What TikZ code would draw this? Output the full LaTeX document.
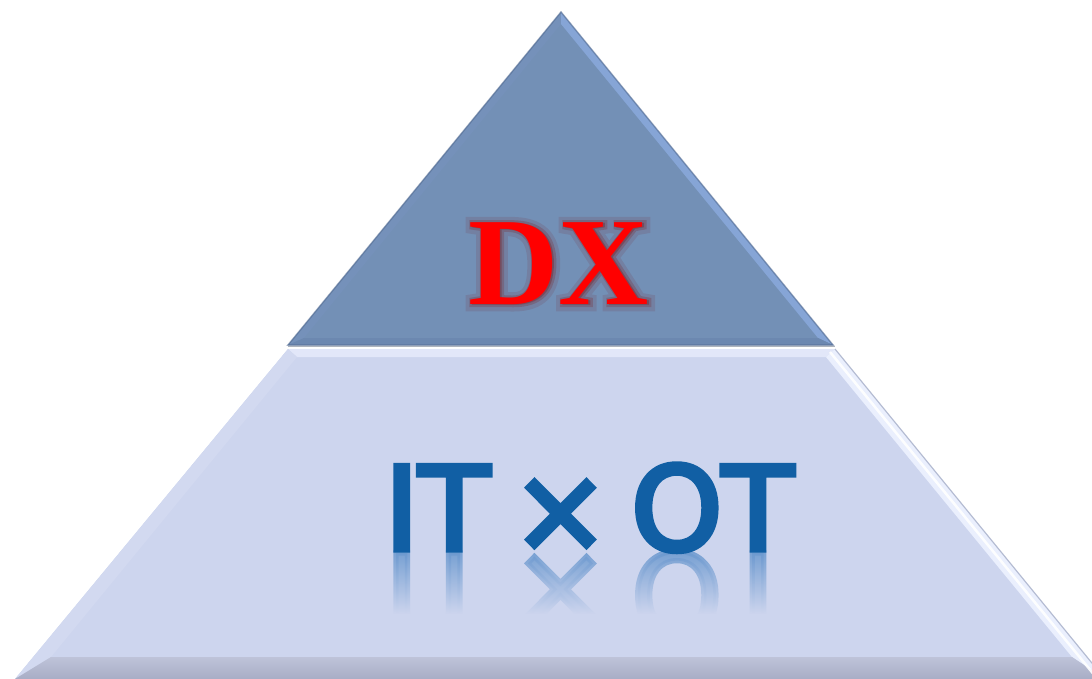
\documentclass[tikz,border=0pt]{standalone}
\usepackage{fontspec}
\usetikzlibrary{fadings}
\newfontfamily\dxfont{Liberation Serif}
\newfontfamily\dxglowfont[FakeBold=4]{Liberation Serif Bold}
\newfontfamily\dxglowwidefont[FakeBold=10]{Liberation Serif Bold}
\newfontfamily\itfont[FakeBold=4.5,WordSpace=0.6]{DejaVu Sans}
\definecolor{topmain}{HTML}{7390B6}
\definecolor{topleft}{HTML}{7591BA}
\definecolor{topright}{HTML}{86A5D6}
\definecolor{topbottom}{HTML}{6C88B0}
\definecolor{topedge}{HTML}{50698F}
\definecolor{botmain}{HTML}{CDD5EE}
\definecolor{bottop}{HTML}{E2E7F9}
\definecolor{botleft}{HTML}{D2D9F0}
\definecolor{botright}{HTML}{EAEFFD}
\definecolor{botbottomA}{HTML}{BEC3D9}
\definecolor{botbottomB}{HTML}{A8ADC5}
\definecolor{botedge}{HTML}{9EA7C2}
\definecolor{seam}{HTML}{AEB4BC}
\definecolor{dxred}{HTML}{FF0000}
\definecolor{dxglow}{HTML}{7A1414}
\definecolor{itblue}{HTML}{115FA4}
\definecolor{itrefl}{HTML}{6A98CF}
\tikzfading[name=reflfade, top color=transparent!100, bottom color=transparent!0]
\tikzset{
  dxtext/.style={font=\dxfont\bfseries\fontsize{125}{125}\selectfont, text=dxred, anchor=base, inner sep=0pt},
  dxhalo/.style={font=\dxglowfont\fontsize{125}{125}\selectfont, text=dxglow, text opacity=0.22, anchor=base, inner sep=0pt},
  dxhalowide/.style={font=\dxglowwidefont\fontsize{125}{125}\selectfont, text=dxglow, text opacity=0.12, anchor=base, inner sep=0pt},
  ittext/.style={font=\itfont\fontsize{116}{116}\selectfont, text=itblue, anchor=base, inner sep=0pt},
  itreflect/.style={font=\itfont\fontsize{116}{116}\selectfont, text=itrefl, text opacity=0.85, anchor=base, inner sep=0pt, yscale=-1, transform shape},
}
\begin{document}
\begin{tikzpicture}[x=1pt,y=-1pt]
\useasboundingbox (0,0) rectangle (1092,679);
\clip (0,0) rectangle (1092,679);
% ---------- bottom trapezoid ----------
\coordinate (TL) at (288,349);
\coordinate (TR) at (835,349);
\coordinate (BR) at (1105,679);
\coordinate (BL) at (15,679);
\coordinate (iTL) at (297,357);
\coordinate (iTR) at (826,357);
\coordinate (iBR) at (1072,657);
\coordinate (iBL) at (51,657);
\fill[botmain] (TL) -- (TR) -- (BR) -- (BL) -- cycle;
\fill[bottop] (TL) -- (TR) -- (iTR) -- (iTL) -- cycle;
\fill[botleft] (TL) -- (iTL) -- (iBL) -- (BL) -- cycle;
\fill[botright] (TR) -- (BR) -- (iBR) -- (iTR) -- cycle;
\shade[top color=botbottomA, bottom color=botbottomB] (iBL) -- (iBR) -- (BR) -- (BL) -- cycle;
\draw[white, line width=2.5, opacity=0.9] ([shift={(-5,3)}]TR) -- ([shift={(-5,3)}]BR);
\draw[botedge, line width=1.2, opacity=0.7] (TR) -- (BR);
% ---------- seam ----------
\draw[seam, line width=1.6] (288,346.5) -- (835,346.5);
% ---------- top triangle ----------
\coordinate (A) at (561,12);
\coordinate (L) at (288,345);
\coordinate (R) at (833,345);
\coordinate (iA) at (561,24);
\coordinate (iL) at (304,338);
\coordinate (iR) at (818,338);
\fill[topmain] (A) -- (L) -- (R) -- cycle;
\fill[topleft] (A) -- (L) -- (iL) -- (iA) -- cycle;
\fill[topright] (A) -- (iA) -- (iR) -- (R) -- cycle;
\fill[topbottom] (L) -- (R) -- (iR) -- (iL) -- cycle;
\draw[topedge, line width=1.5, opacity=0.55, line join=miter] (A) -- (L) -- (R) -- cycle;
% ---------- DX ----------
\node[dxhalowide] (dxglowwide) at (560,305) {DX};
\node[dxhalo] (dxglow) at (560,304.5) {DX};
\node[dxtext] (dx) at (559,304) {DX};
% ---------- IT x OT ----------
\node[itreflect] (itotrefl) at (589,553) {IT × OT};
\fill[botmain, path fading=reflfade] (370,552) rectangle (820,614);
\fill[botmain] (370,613.5) rectangle (820,645);
\node[ittext] (itot) at (589,550) {IT × OT};
\end{tikzpicture}
\end{document}
